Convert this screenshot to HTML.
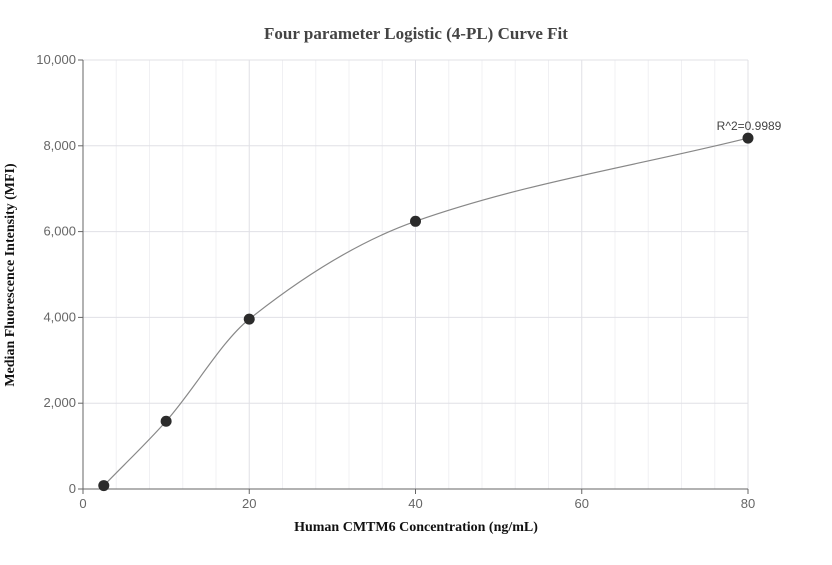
<!DOCTYPE html>
<html><head><meta charset="utf-8"><style>
body{margin:0;background:#fff;width:832px;height:560px;overflow:hidden}
text{font-family:"Liberation Sans",sans-serif}
</style></head><body>
<svg id="chart" width="832" height="560" xmlns="http://www.w3.org/2000/svg">
<text x="416" y="39" text-anchor="middle" font-weight="bold" font-size="17" fill="#444" style="font-family:'Liberation Serif',serif">Four parameter Logistic (4-PL) Curve Fit</text>
<text x="416" y="531" text-anchor="middle" font-weight="bold" font-size="14" fill="#111" style="font-family:'Liberation Serif',serif">Human CMTM6 Concentration (ng/mL)</text>
<text transform="translate(14,275) rotate(-90)" text-anchor="middle" font-weight="bold" font-size="14" fill="#111" style="font-family:'Liberation Serif',serif">Median Fluorescence Intensity (MFI)</text>
<g id="grid"></g><g id="axes"></g><g id="marks"></g>
</svg>
<script>
const xVals=[2.5,10,20,40,80];
const yVals=[80,1580,3960,6240,8180];
const xTicks=[0,20,40,60,80];
const yTicks=[0,2000,4000,6000,8000,10000];
const rLabel="R^2=0.9989";
const NS="http://www.w3.org/2000/svg";
const x0=83,x1=748,y0=489,y1=60;
const sx=v=>x0+(v/80)*(x1-x0);
const sy=v=>y0-(v/10000)*(y0-y1);
function el(t,a,p){const e=document.createElementNS(NS,t);for(const k in a)e.setAttribute(k,a[k]);p.appendChild(e);return e;}
const grid=document.getElementById('grid'),axes=document.getElementById('axes'),marks=document.getElementById('marks');
for(let v=4;v<80;v+=4){if(v%20===0)continue;const g=el('line',{x1:sx(v),x2:sx(v),y1:y1,y2:y0,stroke:'#f0f0f3'},grid);
}
xTicks.forEach(v=>{if(v===0)return;const g=el('line',{x1:sx(v),x2:sx(v),y1:y1,y2:y0,stroke:'#e0e0e6'},grid);
});
yTicks.forEach(v=>{if(v===0)return;const g=el('line',{x1:x0,x2:x1,y1:sy(v),y2:sy(v),stroke:'#e0e0e6'},grid);
});
const ya=el('line',{x1:x0,x2:x0,y1:y1,y2:y0,stroke:'#666'},axes);

const xa=el('line',{x1:x0,x2:x1,y1:y0,y2:y0,stroke:'#666'},axes);

yTicks.forEach(v=>{el('line',{x1:x0-5,x2:x0,y1:sy(v),y2:sy(v),stroke:'#666'},axes);
const t=el('text',{x:x0-7,y:sy(v)+4,'text-anchor':'end','font-size':13,fill:'#666'},axes);t.textContent=v.toLocaleString('en-US');
});
xTicks.forEach(v=>{el('line',{x1:sx(v),x2:sx(v),y1:y0,y2:y0+5,stroke:'#666'},axes);
const t=el('text',{x:sx(v),y:y0+19,'text-anchor':'middle','font-size':13,fill:'#666'},axes);t.textContent=v;
});
const n=xVals.length,px=xVals.map(sx),py=yVals.map(sy);
const d=[],m=[];for(let i=0;i<n-1;i++)d.push((py[i+1]-py[i])/(px[i+1]-px[i]));
m[0]=d[0];m[n-1]=d[n-2];for(let i=1;i<n-1;i++)m[i]=d[i-1]*d[i]<=0?0:2/(1/d[i-1]+1/d[i]);
let p=`M${px[0]},${py[0]}`;
for(let i=0;i<n-1;i++){const h=(px[i+1]-px[i])/3;p+=` C${px[i]+h},${py[i]+m[i]*h} ${px[i+1]-h},${py[i+1]-m[i+1]*h} ${px[i+1]},${py[i+1]}`;}
const c=el('path',{d:p,fill:'none',stroke:'#888','stroke-width':1.2},marks);

xVals.forEach((v,i)=>{const ci=el('circle',{cx:sx(v),cy:sy(yVals[i]),r:5.5,fill:'#2b2b2b'},marks);
});
const r=el('text',{x:sx(xVals[n-1])+1,y:sy(yVals[n-1])-8,'text-anchor':'middle','font-size':12,fill:'#444'},marks);r.textContent=rLabel;

</script>
</body></html>
